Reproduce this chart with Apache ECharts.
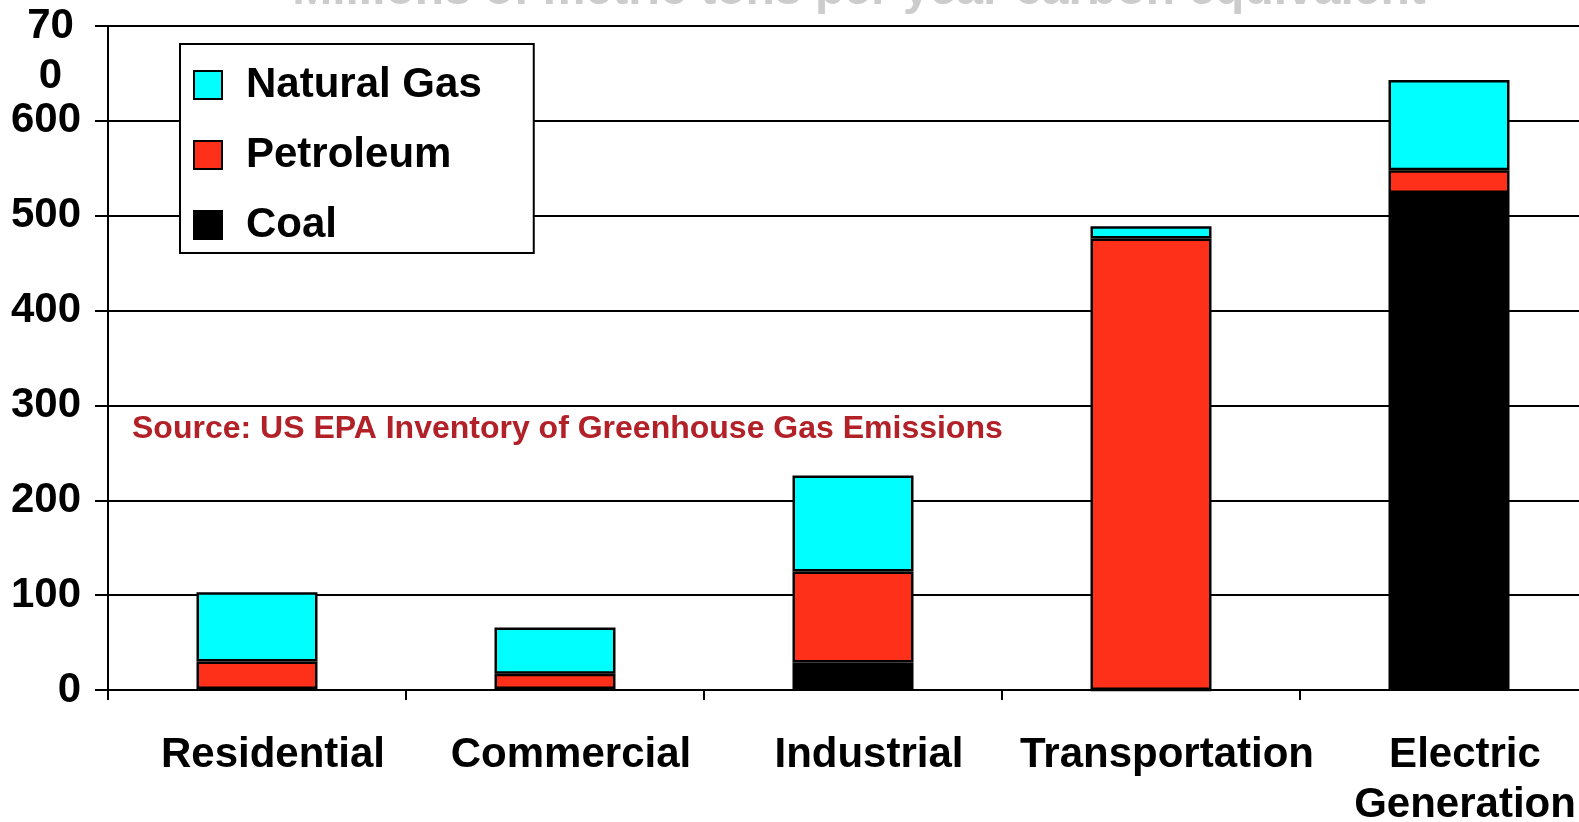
<!DOCTYPE html>
<html>
<head>
<meta charset="utf-8">
<script src="https://cdn.jsdelivr.net/npm/echarts@6/dist/echarts.min.js"></script>
<style>
    html, body {margin: 0; padding: 0; background: #fff;}
    #main {width: 1579px; height: 822px;}
</style>
</head>
<body>
<div id="main"></div>
<script>
// 部门分类
const sectors = ['Residential', 'Commercial', 'Industrial', 'Transportation', 'Electric\nGeneration'];
// 各燃料排放量 (百万公吨碳当量)
const coal = [1, 1, 29, 0, 524];
const petroleum = [29, 16, 96, 476, 24];
const naturalGas = [73, 49, 101, 13, 95];
const yTicks = [0, 700, 100];   // min, max, interval

const font = 'Liberation Sans, Arial, sans-serif';

const chart = echarts.init(document.getElementById('main'));

const barStyle = (color) => ({
    color: color,
    borderColor: '#000',
    borderWidth: 2.5
});

const option = {
    animation: false,
    backgroundColor: '#fff',
    textStyle: {fontFamily: font},
    grid: {left: 108, top: 26, bottom: 132, right: -19, outerBoundsMode: 'none', containLabel: false},
    graphic: [
        {   // 标题 (顶部被裁掉)
            type: 'text',
            x: 859, y: -9,
            style: {
                text: 'Millions of metric tons per year carbon equivalent',
                font: 'bold 48px ' + font,
                fill: '#cccccc',
                align: 'center',
                verticalAlign: 'middle'
            }
        },
        {   // 数据来源
            type: 'text',
            x: 132, y: 429,
            style: {
                text: 'Source: US EPA Inventory of Greenhouse Gas Emissions',
                font: 'bold 32px ' + font,
                fill: '#b22028',
                align: 'left',
                verticalAlign: 'middle'
            }
        }
    ],
    legend: {
        orient: 'vertical',
        left: 180, top: 44,
        data: ['Natural Gas', 'Petroleum', 'Coal'],
        icon: 'rect',
        itemWidth: 28, itemHeight: 28,
        itemGap: 28,
        backgroundColor: '#fff',
        borderColor: '#000',
        borderWidth: 2,
        borderRadius: 0,
        padding: [20, 52, 7, 13],
        textStyle: {
            fontFamily: font, fontWeight: 'bold', fontSize: 42,
            color: '#000', padding: [0, 0, 0, 19]
        }
    },
    xAxis: {
        type: 'category',
        data: sectors,
        axisLine: {lineStyle: {color: '#000', width: 2}},
        axisTick: {show: true, length: 10, lineStyle: {color: '#000', width: 2}},
        axisLabel: {
            interval: 0,
            margin: 40,
            verticalAlign: 'top',
            color: '#000',
            fontFamily: font, fontWeight: 'bold', fontSize: 42,
            lineHeight: 50,
            padding: [0, 0, 0, 32]
        }
    },
    yAxis: {
        type: 'value',
        min: yTicks[0], max: yTicks[1], interval: yTicks[2],
        axisLine: {show: true, lineStyle: {color: '#000', width: 2}},
        axisTick: {show: true, length: 13, lineStyle: {color: '#000', width: 2}},
        splitLine: {lineStyle: {color: '#000', width: 2}},
        axisLabel: {
            margin: 27,
            showMaxLabel: true,
            hideOverlap: false,
            color: '#000',
            fontFamily: font, fontWeight: 'bold', fontSize: 42,
            formatter: function (v) {
                if (v === 700) return '{a| }\n{a|70}\n{a|0}';
                return String(v);
            },
            rich: {
                a: {
                    width: 61, align: 'center', lineHeight: 50,
                    fontFamily: font, fontWeight: 'bold', fontSize: 42, color: '#000'
                }
            }
        }
    },
    series: [
        {name: 'Coal', type: 'bar', stack: 'total', barWidth: 121, data: coal, itemStyle: barStyle('#000000')},
        {name: 'Petroleum', type: 'bar', stack: 'total', barWidth: 121, data: petroleum, itemStyle: barStyle('#ff3019')},
        {name: 'Natural Gas', type: 'bar', stack: 'total', barWidth: 121, data: naturalGas, itemStyle: barStyle('#00ffff')}
    ]
};

chart.setOption(option);
</script>
</body>
</html>
